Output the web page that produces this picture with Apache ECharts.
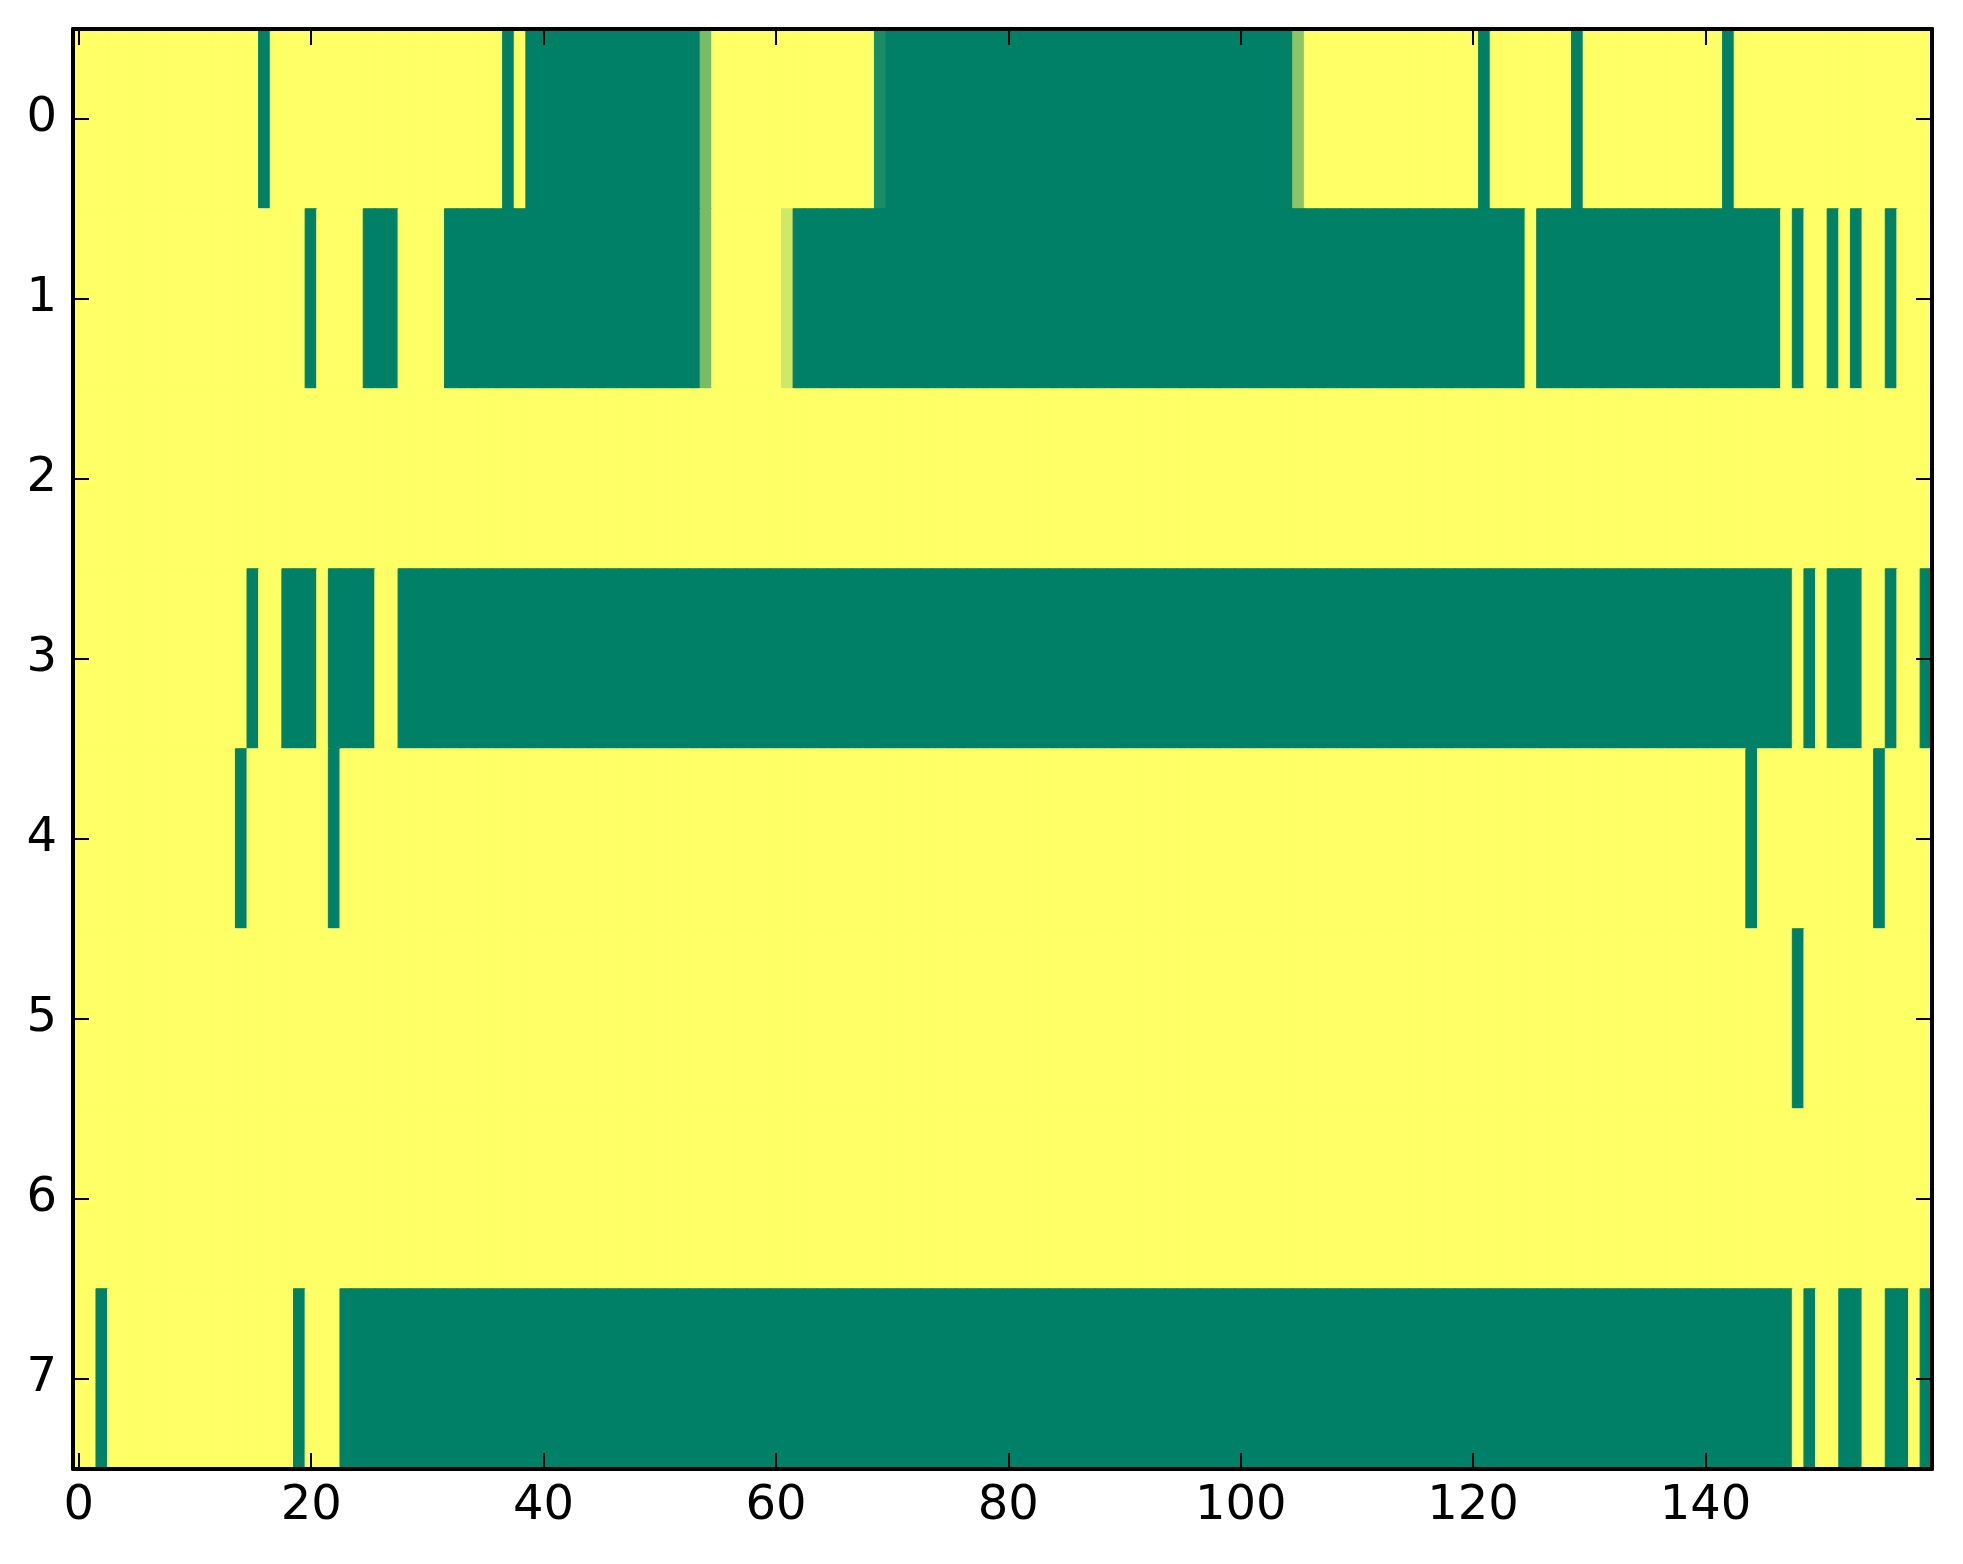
<!DOCTYPE html>
<html>
<head>
<meta charset="utf-8">
<script src="https://cdn.jsdelivr.net/npm/echarts@6/dist/echarts.min.js"></script>
<style>
html,body{margin:0;padding:0;background:#fff;}
#chart{width:1963px;height:1564px;}
</style>
</head>
<body>
<div id="chart"></div>
<script>
// Column categories (0..159) and row categories (0..7)
const xCategories = Array.from({length: 160}, (_, i) => String(i));
const yCategories = ['0', '1', '2', '3', '4', '5', '6', '7'];
const xTickLabels = ['0', '20', '40', '60', '80', '100', '120', '140'];

// Non-zero cells per row: [firstColumn, lastColumn, value]
// every other cell of the row is 0
const row0 = [[16,16,1],[37,37,1],[39,53,1],[54,54,0.53],[69,69,0.9],[70,104,1],[105,105,0.46],[121,121,1],[129,129,1],[142,142,1]];
const row1 = [[20,20,1],[25,27,1],[32,53,1],[54,54,0.53],[61,61,0.18],[62,124,1],[126,146,1],[148,148,1],[151,151,1],[153,153,1],[156,156,1]];
const row2 = [];
const row3 = [[15,15,1],[18,20,1],[22,25,1],[28,147,1],[149,149,1],[151,153,1],[156,156,1],[159,159,1]];
const row4 = [[14,14,1],[22,22,1],[144,144,1],[155,155,1]];
const row5 = [[148,148,1]];
const row6 = [];
const row7 = [[2,2,1],[19,19,1],[23,147,1],[149,149,1],[152,153,1],[156,157,1],[159,159,1]];
const rows = [row0, row1, row2, row3, row4, row5, row6, row7];

// colour map (summer_r): 0 -> yellow, 1 -> green
const colorStops = ['#ffff66', '#008066'];

const data = [];
rows.forEach((segs, r) => {
  const vals = new Array(xCategories.length).fill(0);
  segs.forEach(([a, b, v]) => { for (let c = a; c <= b; c++) vals[c] = v; });
  vals.forEach((v, c) => {
    const col = echarts.color.lerp(v, colorStops);
    data.push({value: [c, r, v], itemStyle: {color: col, borderColor: col, borderWidth: 1}});
  });
});

const labelSet = new Set(xTickLabels);
const showX = (i) => labelSet.has(xCategories[i]);
const FONT = 'DejaVu Sans';

const chart = echarts.init(document.getElementById('chart'), null, {renderer: 'canvas'});
const axisLine = {show: true, onZero: false, lineStyle: {color: '#000', width: 4}};
const tick = (interval) => ({show: true, inside: true, length: 16, alignWithLabel: true, interval: interval, lineStyle: {color: '#000', width: 2}});

chart.setOption({
  animation: false,
  backgroundColor: '#ffffff',
  grid: {left: 73, top: 29, width: 1859, height: 1440, containLabel: false},
  xAxis: [
    {type: 'category', data: xCategories, position: 'bottom', z: 10,
      axisLine: axisLine, axisTick: tick(showX), splitLine: {show: false},
      axisLabel: {show: true, interval: showX, margin: 14, color: '#000', fontSize: 48, fontFamily: FONT}},
    {type: 'category', data: xCategories, position: 'top', z: 10,
      axisLine: axisLine, axisTick: tick(showX), splitLine: {show: false},
      axisLabel: {show: false}}
  ],
  yAxis: [
    {type: 'category', data: yCategories, inverse: true, position: 'left', z: 10,
      axisLine: axisLine, axisTick: tick(0), splitLine: {show: false},
      axisLabel: {show: true, interval: 0, margin: 16, color: '#000', fontSize: 48, fontFamily: FONT}},
    {type: 'category', data: yCategories, inverse: true, position: 'right', z: 10,
      axisLine: axisLine, axisTick: tick(0), splitLine: {show: false},
      axisLabel: {show: false}}
  ],
  series: [{
    type: 'heatmap', xAxisIndex: 0, yAxisIndex: 0, data: data,
    progressive: 0,
    emphasis: {disabled: true}
  }]
});
</script>
</body>
</html>
